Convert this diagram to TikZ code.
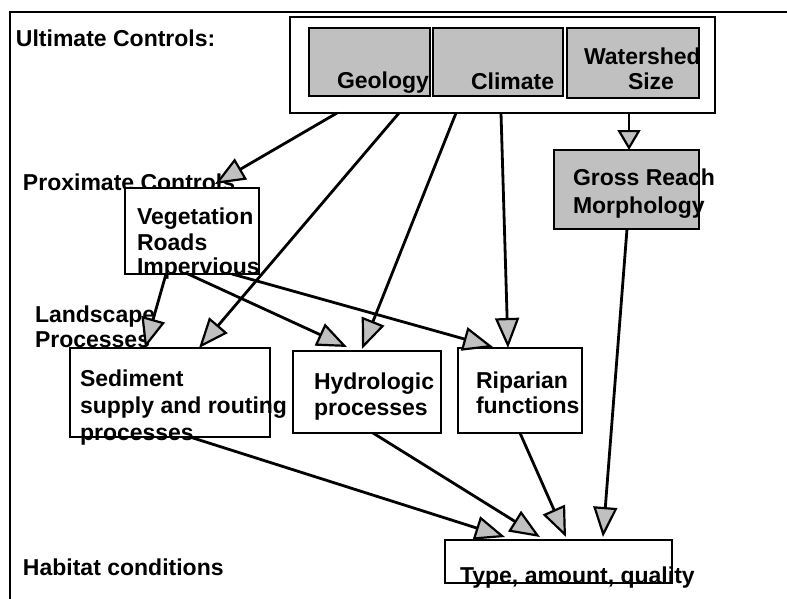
\documentclass[tikz,border=0pt]{standalone}
\usepackage{fontspec}
\setmainfont{Liberation Sans}
\usetikzlibrary{arrows.meta}
\definecolor{boxgray}{RGB}{192,192,192}
\begin{document}
\begin{tikzpicture}[x=1pt,y=-1pt,
  box/.style={draw, line width=2.2pt, inner sep=0pt, outer sep=0pt, fill=white},
  gbox/.style={box, fill=boxgray},
  lbl/.style={anchor=base west, inner sep=0pt, outer sep=0pt, font=\fontsize{23}{27}\selectfont\bfseries},
  conn/.style={line width=2.8pt, -{Triangle[length=30pt,width=24pt,fill=boxgray,line width=2.2pt]}},
]
\useasboundingbox (0,0) rectangle (787,598);
% frame
\draw[line width=2.2pt] (10,600) -- (10,12) -- (790,12);
% row labels
\node[lbl] (lult) at (16,46) {Ultimate Controls:};
\node[lbl] (lprox) at (23,190) {Proximate Controls};
\node[lbl] (lland1) at (35,322) {Landscape};
\node[lbl] (lland2) at (35,347) {Processes};
\node[lbl] (lhab) at (23,575) {Habitat conditions};
% boxes
\node[box, minimum width=425pt, minimum height=96pt] (ult) at (502.5,65) {};
\node[gbox, minimum width=121pt, minimum height=68pt] (geo) at (369.5,62) {};
\node[gbox, minimum width=130pt, minimum height=68pt] (cli) at (498,62) {};
\node[gbox, minimum width=132pt, minimum height=70pt] (ws) at (633,63) {};
\node[gbox, minimum width=145pt, minimum height=79pt] (gross) at (626.5,189.5) {};
\node[box, minimum width=134pt, minimum height=86pt] (veg) at (192,231) {};
\node[box, minimum width=200pt, minimum height=89pt] (sed) at (170,392.5) {};
\node[box, minimum width=148pt, minimum height=82pt] (hyd) at (367,392) {};
\node[box, minimum width=124pt, minimum height=85pt] (rip) at (520,390.5) {};
\node[box, minimum width=227pt, minimum height=43pt] (type) at (558.5,561.5) {};
% box texts
\node[lbl] (tgeo) at (337,88) {Geology};
\node[lbl] (tcli) at (471,89) {Climate};
\node[lbl] (tws1) at (584,64) {Watershed};
\node[lbl] (tws2) at (628,89) {Size};
\node[lbl] (tgr1) at (573,185) {Gross Reach};
\node[lbl] (tgr2) at (573,213) {Morphology};
\node[lbl] (tveg1) at (137,224) {Vegetation};
\node[lbl] (tveg2) at (137,250) {Roads};
\node[lbl] (tveg3) at (137,274) {Impervious};
\node[lbl] (tsed1) at (80,386) {Sediment};
\node[lbl] (tsed2) at (80,413) {supply and routing};
\node[lbl] (tsed3) at (80,440) {processes};
\node[lbl] (thyd1) at (314,389) {Hydrologic};
\node[lbl] (thyd2) at (314,415) {processes};
\node[lbl] (trip1) at (476,388) {Riparian};
\node[lbl] (trip2) at (476,413) {functions};
\node[lbl] (ttype) at (460,583) {Type, amount, quality};
% connectors
\draw[conn] ([xshift=47pt]ult.south west) -- ([xshift=90pt,yshift=4pt]veg.north west);
\draw[conn] ([xshift=109pt]ult.south west) -- ([xshift=129pt]sed.north west);
\draw[conn] ([xshift=166pt]ult.south west) -- ([xshift=69pt,yshift=2pt]hyd.north west);
\draw[conn] ([xshift=211pt]ult.south west) -- ([xshift=50pt]rip.north west);
\draw[conn, -{Triangle[length=20pt,width=23pt,fill=boxgray,line width=2.2pt]}] ([xshift=339pt]ult.south west) -- ([xshift=75pt]gross.north west);
\draw[conn] ([xshift=41pt]veg.south west) -- ([xshift=75pt]sed.north west);
\draw[conn] ([xshift=63pt]veg.south west) -- ([xshift=54pt,yshift=4pt]hyd.north west);
\draw[conn] ([xshift=107pt]veg.south west) -- ([xshift=35pt,yshift=1pt]rip.north west);
\draw[conn] ([xshift=120pt]sed.south west) -- ([xshift=60pt,yshift=3pt]type.north west);
\draw[conn] ([xshift=80pt]hyd.south west) -- ([xshift=95pt,yshift=3pt]type.north west);
\draw[conn] ([xshift=62pt]rip.south west) -- ([xshift=121pt,yshift=3pt]type.north west);
\draw[conn] ([xshift=73pt]gross.south west) -- ([xshift=158pt,yshift=3pt]type.north west);
\end{tikzpicture}
\end{document}
